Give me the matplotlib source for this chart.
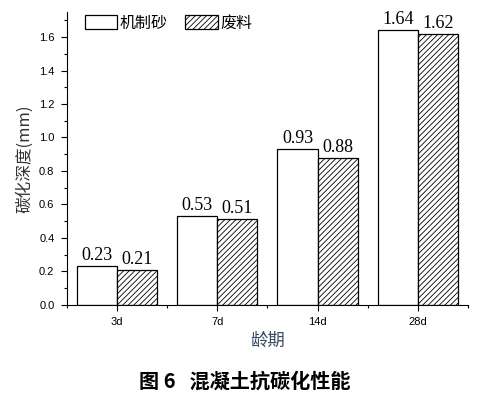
import numpy as np
import matplotlib
matplotlib.use('Agg')
import matplotlib.pyplot as plt
from matplotlib.ticker import MultipleLocator, FormatStrFormatter

plt.rcParams['font.family'] = ['Noto Sans CJK SC', 'DejaVu Sans']
plt.rcParams['hatch.color'] = '#444444'
plt.rcParams['hatch.linewidth'] = 0.6

# Data
ages = ['3d', '7d', '14d', '28d']
sand = [0.23, 0.53, 0.93, 1.64]    # 机制砂
waste = [0.21, 0.51, 0.88, 1.62]   # 废料
series_names = ['机制砂', '废料']

fig = plt.figure(figsize=(4.78, 3.99), dpi=100)
ax = fig.add_axes([0.140, 0.236, 0.839, 0.734])

x = np.arange(len(ages))
w = 0.4
b1 = ax.bar(x - w / 2, sand, w, facecolor='white', edgecolor='black', linewidth=0.9,
            label=series_names[0])
b2 = ax.bar(x + w / 2, waste, w, facecolor='white', edgecolor='black', linewidth=0.9,
            hatch='//////', label=series_names[1])

# value labels
for bars, vals in ((b1, sand), (b2, waste)):
    for rect, v in zip(bars, vals):
        ax.text(rect.get_x() + rect.get_width() / 2, v + 0.012, f'{v:.2f}',
                ha='center', va='bottom', fontsize=13, family='Liberation Serif')

ax.set_xlim(-0.5, 3.5)
ax.set_ylim(0, 1.75)
ax.set_xticks(x)
ax.set_xticklabels(ages, fontsize=8, family='Liberation Sans')
ax.set_xticks(np.arange(-0.5, 3.6, 1.0), minor=True)
ax.yaxis.set_major_locator(MultipleLocator(0.2))
ax.yaxis.set_minor_locator(MultipleLocator(0.1))
ax.yaxis.set_major_formatter(FormatStrFormatter('%.1f'))
for lab in ax.get_yticklabels():
    lab.set_fontsize(8)
    lab.set_family('Liberation Sans')

ax.spines['top'].set_visible(False)
ax.spines['right'].set_visible(False)
ax.tick_params(axis='both', which='major', direction='out', length=4, width=0.8, pad=5)
ax.tick_params(axis='both', which='minor', direction='out', length=2.5, width=0.8)

ax.set_ylabel('碳化深度(mm)', fontsize=12, color='#333333', labelpad=4)
ax.set_xlabel('龄期', fontsize=12.5, color='#3a4a66', labelpad=3)

leg = ax.legend(loc='upper left', bbox_to_anchor=(0.008, 1.04), ncol=2, frameon=False,
                fontsize=11.5, handlelength=2.05, handleheight=0.9, handletextpad=0.15,
                columnspacing=1.1)

fig.text(0.513, 0.045, '图 6   混凝土抗碳化性能', ha='center', va='center',
         fontsize=14.5, fontweight='bold')

fig.savefig('out.png', dpi=100)
